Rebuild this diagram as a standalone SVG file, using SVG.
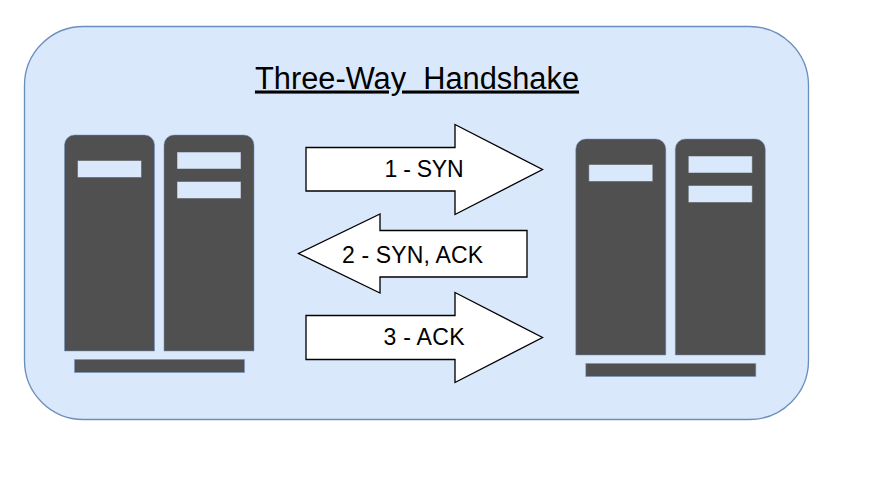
<svg xmlns="http://www.w3.org/2000/svg" width="883" height="491" viewBox="0 0 883 491">
<style>
text{font-family:"Liberation Sans",Arial,sans-serif;fill:#000}
.label{font-size:23px;text-anchor:middle}
.title{font-size:30.8px;text-anchor:middle;text-decoration:underline;white-space:pre}
.dark{fill:#505050;stroke:#6c8ebf;stroke-opacity:.5;stroke-width:1}
.slot{fill:#dae8fc;stroke:#505050;stroke-opacity:.5;stroke-width:1}
.arrow{fill:#fff;stroke:#000;stroke-width:1.33;stroke-linejoin:miter}
</style>
<defs>
<g id="base">
<path class="dark" d="M64.5 351V145a10 10 0 0 1 10-10h70a10 10 0 0 1 10 10V351Z"/>
<path class="dark" d="M164 351V145a10 10 0 0 1 10-10h70a10 10 0 0 1 10 10V351Z"/>
<rect class="dark" x="74.500" y="359.500" width="170" height="13"/>
<rect class="slot" x="77.500" y="160.500" width="64" height="17"/>
<rect class="slot" x="177" y="152" width="64" height="17"/>
<rect class="slot" x="177" y="181.500" width="64" height="17"/>
</g>
</defs>
<rect width="883" height="491" fill="#fff"/>
<g id="container">
<rect x="24.500" y="26.500" width="784" height="393" rx="59" ry="59" fill="#dae8fc" stroke="#6c8ebf" stroke-width="1.33"/>
</g>
<g id="title"><text class="title" x="417" y="88.500" xml:space="preserve">Three-Way  Handshake</text></g>
<g id="server-left"><use href="#base"/></g>
<g id="server-right"><use href="#base" transform="translate(511.3 4)"/></g>
<g id="connectors">
<g id="arrow-syn">
<path class="arrow" d="M306 147.500H455V124.500L542.500 169.500L455 214.500V191H306Z"/>
<text class="label" x="424" y="177" textLength="79">1 - SYN</text>
</g>
<g id="arrow-syn-ack">
<path class="arrow" d="M527 230.500H380V214L298.500 253.500L380 293V277H527Z"/>
<text class="label" x="412.500" y="262.500" textLength="141">2 - SYN, ACK</text>
</g>
<g id="arrow-ack">
<path class="arrow" d="M306 315.500H455V292.500L542.500 337.500L455 382.500V359.500H306Z"/>
<text class="label" x="424" y="345" textLength="81">3 - ACK</text>
</g>
</g>
</svg>
